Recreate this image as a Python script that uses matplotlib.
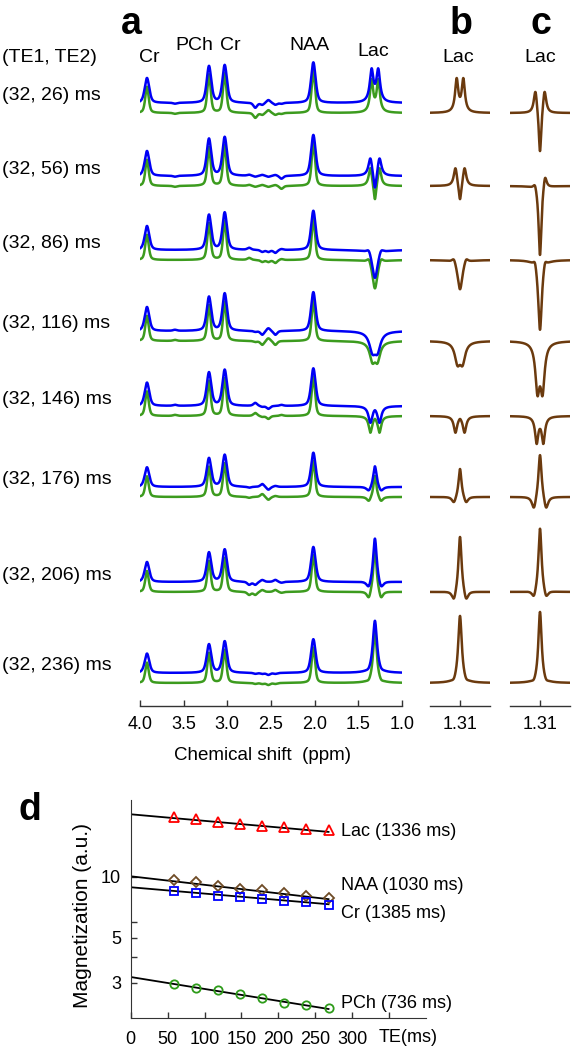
import numpy as np
import matplotlib
matplotlib.use("Agg")
import matplotlib.pyplot as plt

plt.rcParams['font.family'] = ['Liberation Sans', 'DejaVu Sans']

W, H = 576, 1050
fig = plt.figure(figsize=(W / 100, H / 100), dpi=100)

# ---------------- data ----------------
ROW_LABELS = ["(32, 26) ms", "(32, 56) ms", "(32, 86) ms", "(32, 116) ms",
              "(32, 146) ms", "(32, 176) ms", "(32, 206) ms", "(32, 236) ms"]
# metabolite peak positions (ppm)
PEAK_PPM = [3.92, 3.21, 3.03, 2.015]
PEAK_NAMES = ["Cr", "PCh", "Cr", "NAA"]
# peak heights per row (blue spectrum, display units)
CR39_H = [25, 25, 24, 24, 23.4, 19.7, 20, 19.4]
PCH_H = [36.6, 37, 35, 34, 33.4, 28.7, 29.4, 28.5]
CR30_H = [37.6, 38.7, 37.3, 37.4, 36, 32, 32.4, 31.5]
NAA_H = [40.6, 41, 39.3, 39, 37.7, 34.3, 35, 33.7]
# small resonances (Glu/Gln/Asp region)
MINOR_PPM = [3.60, 2.75, 2.68, 2.60, 2.53, 2.45, 2.38]
MINOR_AMP = [[-1, 0, -5, -2, 3, -2, -1],
             [-1, 1, -1, 1, -1, 1, -3],
             [0, 2, 0, -2, -2, -3, 1],
             [1, 0, -1, -4, 3, -4, 0],
             [1, 0, 3, -1, -3, 0, 1],
             [0, -1, 0, 3, -3, 1, 0],
             [0, -3, -3, 2, 0, 2, -1],
             [0, 0, -1, -1, -2, -1, 0]]
LAC_PPM = 1.31
# Lac lineshape components (offset ppm, amplitude, half width ppm) per row
LAC_B = [[(-0.038, 32.5, 0.0218), (0.038, 32.5, 0.0218)],
         [(-0.052, 18.7, 0.0229), (0.052, 18.7, 0.0229), (0.0, -19.2, 0.017)],
         [(-0.069, 6, 0.0286), (0.069, 6, 0.0286), (0.0, -31, 0.0344)],
         [(-0.029, -19.5, 0.0366), (0.029, -19.5, 0.0366)],
         [(-0.052, -16.2, 0.0229), (0.052, -16.2, 0.0229), (0.0, 2.3, 0.017)],
         [(-0.069, -7.1, 0.0286), (0.069, -7.1, 0.0286), (0.0, 30.1, 0.0206)],
         [(-0.069, -11.1, 0.0286), (0.069, -11.1, 0.0286), (0.0, 58.3, 0.0218)],
         [(-0.069, -3, 0.0286), (0.069, -3, 0.0286), (0.0, 68, 0.0252)]]
LAC_C = [[(-0.052, 24.3, 0.0229), (0.052, 24.3, 0.0229), (0.0, -46, 0.017)],
         [(-0.057, 15, 0.0229), (0.057, 7, 0.0229), (0.0, -72, 0.0195)],
         [(-0.057, 8, 0.0229), (0.057, 8, 0.0229), (0.0, -72, 0.0252)],
         [(-0.029, -46, 0.0286), (0.029, -46, 0.0286)],
         [(-0.038, -26, 0.0218), (0.038, -26, 0.0218)],
         [(-0.069, -14, 0.0286), (0.069, -14, 0.0286), (0.0, 46, 0.0218)],
         [(-0.069, -9, 0.0286), (0.069, -9, 0.0286), (0.0, 66, 0.0218)],
         [(-0.069, -3, 0.0286), (0.069, -3, 0.0286), (0.0, 72, 0.0229)]]
LAC_A_SCALE = [0.97, 1.0, 0.97, 0.9, 1.0, 0.75, 0.8, 0.78]

# panel d
TE = [58, 88, 118, 148, 178, 208, 238, 268]
LAC_M = [19.75, 19.37, 18.78, 18.3, 17.89, 17.63, 17.35, 16.97]
NAA_M = [9.62, 9.45, 8.99, 8.76, 8.59, 8.34, 8.09, 7.88]
CR_M = [8.49, 8.34, 8.09, 7.93, 7.82, 7.64, 7.50, 7.30]
PCH_M = [2.97, 2.82, 2.76, 2.63, 2.52, 2.39, 2.33, 2.24]
FIT_M0 = [20.4, 10.07, 8.89, 3.20]
FIT_T2 = [1336, 1030, 1385, 736]
FIT_NAMES = ["Lac", "NAA", "Cr", "PCh"]

# ---------------- layout (pixels) ----------------
BASE = [103, 176, 250, 331, 406, 487, 582, 673]   # blue baseline per row
GREEN_SHIFT = 10
AX_BOTTOM = 706
BLUE = '#0000F5'
GREEN = '#3C9B1E'
BROWN = '#6B3A0E'


def px_axes(left, top, right, bottom):
    return fig.add_axes([left / W, 1 - bottom / H, (right - left) / W, (bottom - top) / H])


def ftext(x, y, s, **kw):
    kw.setdefault('ha', 'center')
    kw.setdefault('va', 'center')
    fig.text(x / W, 1 - y / H, s, **kw)


def lor(x, x0, g):
    return 1.0 / (1.0 + ((x - x0) / g) ** 2)


def pvoigt(x, x0, g, eta=0.5):
    u = (x - x0) / g
    return eta / (1.0 + u ** 2) + (1 - eta) * np.exp(-np.log(2) * u ** 2)


def lac_shape(x, comps, wscale=1.0):
    y = np.zeros_like(x)
    for off, amp, g in comps:
        y += amp * lor(x, LAC_PPM + off, g * wscale)
    return y


def style_x_axis(ax):
    for s in ['left', 'right', 'top']:
        ax.spines[s].set_visible(False)
    ax.spines['bottom'].set_linewidth(1.0)
    ax.spines['bottom'].set_color('#333333')
    ax.tick_params(axis='x', direction='in', length=4, width=1, labelsize=13,
                   pad=7, color='#333333')
    ax.set_yticks([])
    ax.patch.set_alpha(0)


# ---------------- panel a ----------------
ppm = np.linspace(4.0, 1.0, 2000)
axa = px_axes(140, 0, 402, AX_BOTTOM)
axa.set_xlim(4.0, 1.0)
axa.set_ylim(AX_BOTTOM, 0)
heights = [CR39_H, PCH_H, CR30_H, NAA_H]
for r in range(8):
    for color, shift, g, hs, ws in [(GREEN, GREEN_SHIFT, 0.023, 1.05, 1.0),
                                    (BLUE, 0, 0.031, 1.0, 1.15)]:
        s = np.zeros_like(ppm)
        for k, p in enumerate(PEAK_PPM):
            s += heights[k][r] * hs * pvoigt(ppm, p, g)
        for p, a in zip(MINOR_PPM, MINOR_AMP[r]):
            s += a * pvoigt(ppm, p, 0.025)
        s += LAC_A_SCALE[r] * lac_shape(ppm, LAC_B[r], ws)
        axa.plot(ppm, BASE[r] + shift - s, color=color, lw=1.8, solid_joinstyle='round')
style_x_axis(axa)
axa.set_xticks([4.0, 3.5, 3.0, 2.5, 2.0, 1.5, 1.0])
axa.set_xticklabels(["4.0", "3.5", "3.0", "2.5", "2.0", "1.5", "1.0"])

# ---------------- panels b, c ----------------
half = 30 / 87.33
ppm_l = np.linspace(LAC_PPM + half, LAC_PPM - half, 600)
for left, comps in [(430, LAC_B), (510, LAC_C)]:
    ax = px_axes(left, 0, left + 60, AX_BOTTOM)
    ax.set_xlim(LAC_PPM + half, LAC_PPM - half)
    ax.set_ylim(AX_BOTTOM, 0)
    for r in range(8):
        ax.plot(ppm_l, BASE[r] + GREEN_SHIFT - lac_shape(ppm_l, comps[r]),
                color=BROWN, lw=1.8)
    style_x_axis(ax)
    ax.set_xticks([LAC_PPM])
    ax.set_xticklabels(["1.31"])

# texts for top panels
ftext(131, 24, "a", fontsize=27, fontweight='bold')
ftext(461, 24, "b", fontsize=27, fontweight='bold')
ftext(541, 24, "c", fontsize=27, fontweight='bold')
ftext(2, 58, "(TE1, TE2)", fontsize=14, ha='left')
ftext(149, 58, "Cr", fontsize=14)
ftext(194, 46, "PCh", fontsize=14)
ftext(230, 46, "Cr", fontsize=14)
ftext(309, 46, "NAA", fontsize=14)
ftext(373, 51, "Lac", fontsize=14)
ftext(458, 58, "Lac", fontsize=14)
ftext(540, 58, "Lac", fontsize=14)
for r in range(8):
    ftext(2, BASE[r] - 7, ROW_LABELS[r], fontsize=14, ha='left')
ftext(262, 755, "Chemical shift  (ppm)", fontsize=13.5)

# ---------------- panel d ----------------
axd = px_axes(130.7, 800, 426, 1018.3)
axd.set_yscale('log')
axd.set_xlim(0, 400)
axd.set_ylim(2, 24)
markers = [('^', '#FF0000', LAC_M, 7.5), ('D', '#6E4B26', NAA_M, 5.5),
           ('s', '#0000FF', CR_M, 5.5), ('o', '#2E9B1A', PCH_M, 6)]
te = np.array(TE, dtype=float)
for (mk, col, vals, ms), m0, t2 in zip(markers, FIT_M0, FIT_T2):
    xs = np.array([0.0, te[-1]])
    axd.plot(xs, m0 * np.exp(-xs / t2), color='black', lw=1.3, zorder=2)
    axd.plot(te, vals, linestyle='none', marker=mk, markersize=ms,
             markerfacecolor='none', markeredgecolor=col, markeredgewidth=1.3, zorder=3)
for s in ['right', 'top']:
    axd.spines[s].set_visible(False)
for s in ['left', 'bottom']:
    axd.spines[s].set_color('#333333')
axd.set_xticks([0, 50, 100, 150, 200, 250, 300, 350])
axd.set_xticklabels(["0", "50", "100", "150", "200", "250", "300", ""])
axd.set_yticks([3, 4, 5, 6, 10])
axd.set_yticklabels(["3", "", "5", "", "10"])
axd.yaxis.set_minor_locator(matplotlib.ticker.NullLocator())
axd.tick_params(direction='in', length=4, width=1, labelsize=13, color='#333333')
axd.tick_params(axis='x', pad=9)
axd.tick_params(axis='y', pad=7)
axd.patch.set_alpha(0)
ftext(408, 1038, "TE(ms)", fontsize=13)
ftext(83, 915, "Magnetization (a.u.)", fontsize=15, rotation=90)
label_y = [832, 885, 913, 1003]
for name, t2, yy in zip(FIT_NAMES, FIT_T2, label_y):
    ftext(341, yy, f"{name} ({t2} ms)", fontsize=13, ha='left')
ftext(30, 810, "d", fontsize=27, fontweight='bold')

fig.savefig("out.png", dpi=100)
